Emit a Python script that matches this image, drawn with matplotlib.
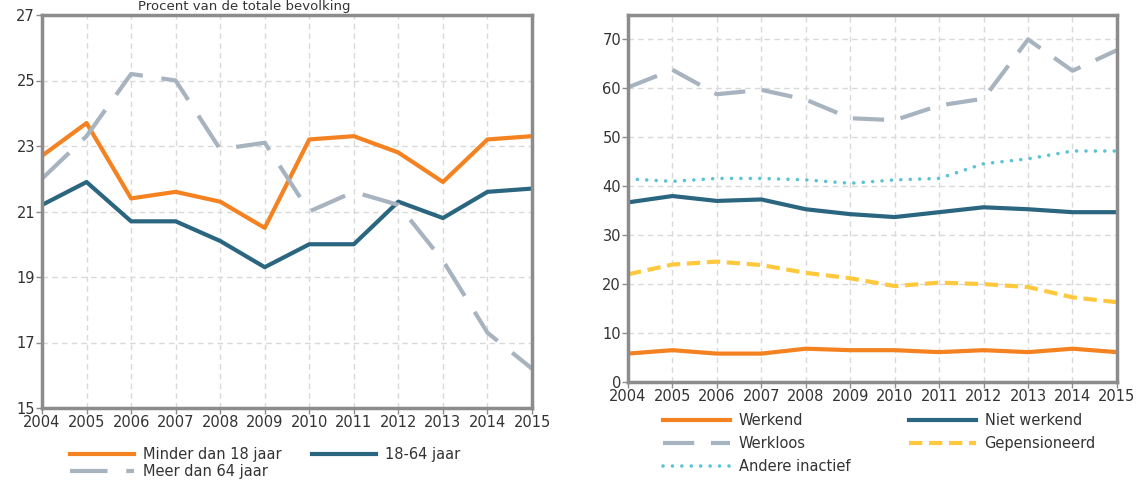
import matplotlib.pyplot as plt

years = list(range(2004, 2016))

# left panel: per leeftijdsgroep
minder_18 = [22.7, 23.7, 21.4, 21.6, 21.3, 20.5, 23.2, 23.3, 22.8, 21.9, 23.2, 23.3]
jaar_18_64 = [21.2, 21.9, 20.7, 20.7, 20.1, 19.3, 20.0, 20.0, 21.3, 20.8, 21.6, 21.7]
meer_64 = [22.0, 23.3, 25.2, 25.0, 22.9, 23.1, 21.0, 21.6, 21.2, 19.5, 17.3, 16.2]

# right panel: per activiteitsstatus
werkend = [5.8, 6.5, 5.8, 5.8, 6.8, 6.5, 6.5, 6.1, 6.5, 6.1, 6.8, 6.1]
niet_werkend = [36.7, 38.0, 37.0, 37.3, 35.3, 34.3, 33.7, 34.7, 35.7, 35.3, 34.7, 34.7]
werkloos = [60.2, 63.8, 58.8, 59.7, 57.7, 53.9, 53.5, 56.5, 57.9, 70.0, 63.6, 67.8]
gepensioneerd = [22.0, 24.0, 24.6, 23.9, 22.3, 21.2, 19.6, 20.3, 20.0, 19.4, 17.3, 16.3]
andere_inactief = [41.5, 41.0, 41.6, 41.6, 41.3, 40.6, 41.3, 41.6, 44.6, 45.6, 47.2, 47.2]

orange = '#F58220'
teal = '#2A6680'
grey = '#A8B3C0'
yellow = '#FFC83D'
cyan = '#5BC4D4'
spine = '#8C8C8C'
txt = '#333333'

plt.rcParams['font.family'] = ['DejaVu Sans']
plt.rcParams['font.size'] = 10.5

fig = plt.figure(figsize=(11.38, 4.8), dpi=100)
ax1 = fig.add_axes([0.0369, 0.15, 0.4306, 0.81875])
ax2 = fig.add_axes([0.5518, 0.2042, 0.4297, 0.7646])


def style(ax):
    for s in ax.spines.values():
        s.set_color(spine)
        s.set_linewidth(2.5)
    ax.grid(True, color='#D9D9D9', linestyle=(0, (4, 3)), linewidth=1)
    ax.set_axisbelow(True)
    ax.tick_params(colors=spine, labelcolor=txt, length=4, width=1, pad=1)
    ax.set_xlim(2004, 2015)
    ax.set_xticks(years)


# title sits right at the top edge, as in the original
fig.text(0.215, 0.999, 'Procent van de totale bevolking', ha='center', va='top',
         color=txt, fontsize=9.5)

l1, = ax1.plot(years, minder_18, color=orange, lw=3, label='Minder dan 18 jaar')
l2, = ax1.plot(years, jaar_18_64, color=teal, lw=3, label='18-64 jaar')
l3, = ax1.plot(years, meer_64, color=grey, lw=3, dashes=(9, 4.5), label='Meer dan 64 jaar')
style(ax1)
ax1.set_ylim(15, 27)
ax1.set_yticks([15, 17, 19, 21, 23, 25, 27])
ax1.legend(handles=[l1, l3, l2], ncol=2, loc='upper left', bbox_to_anchor=(0.045, -0.085),
           frameon=False, handlelength=4.4, handletextpad=0.6, columnspacing=2.1,
           labelspacing=0.1, borderaxespad=0, labelcolor=txt)

r1, = ax2.plot(years, werkend, color=orange, lw=3, label='Werkend')
r2, = ax2.plot(years, niet_werkend, color=teal, lw=3, label='Niet werkend')
r3, = ax2.plot(years, werkloos, color=grey, lw=3, dashes=(7.5, 4), label='Werkloos')
r4, = ax2.plot(years, gepensioneerd, color=yellow, lw=3, dashes=(3.2, 1.6), label='Gepensioneerd')
r5, = ax2.plot(years, andere_inactief, color=cyan, lw=2.6, linestyle=(0, (0.01, 2.6)),
               dash_capstyle='round', label='Andere inactief')
style(ax2)
ax2.set_ylim(0, 75)
ax2.set_yticks(range(0, 80, 10))
ax2.legend(handles=[r1, r3, r5, r2, r4], ncol=2, loc='upper left', bbox_to_anchor=(0.06, -0.068),
           frameon=False, handlelength=4.6, handletextpad=0.6, columnspacing=4.0,
           labelspacing=0.55, borderaxespad=0, labelcolor=txt)

fig.savefig('out.png', dpi=100)
